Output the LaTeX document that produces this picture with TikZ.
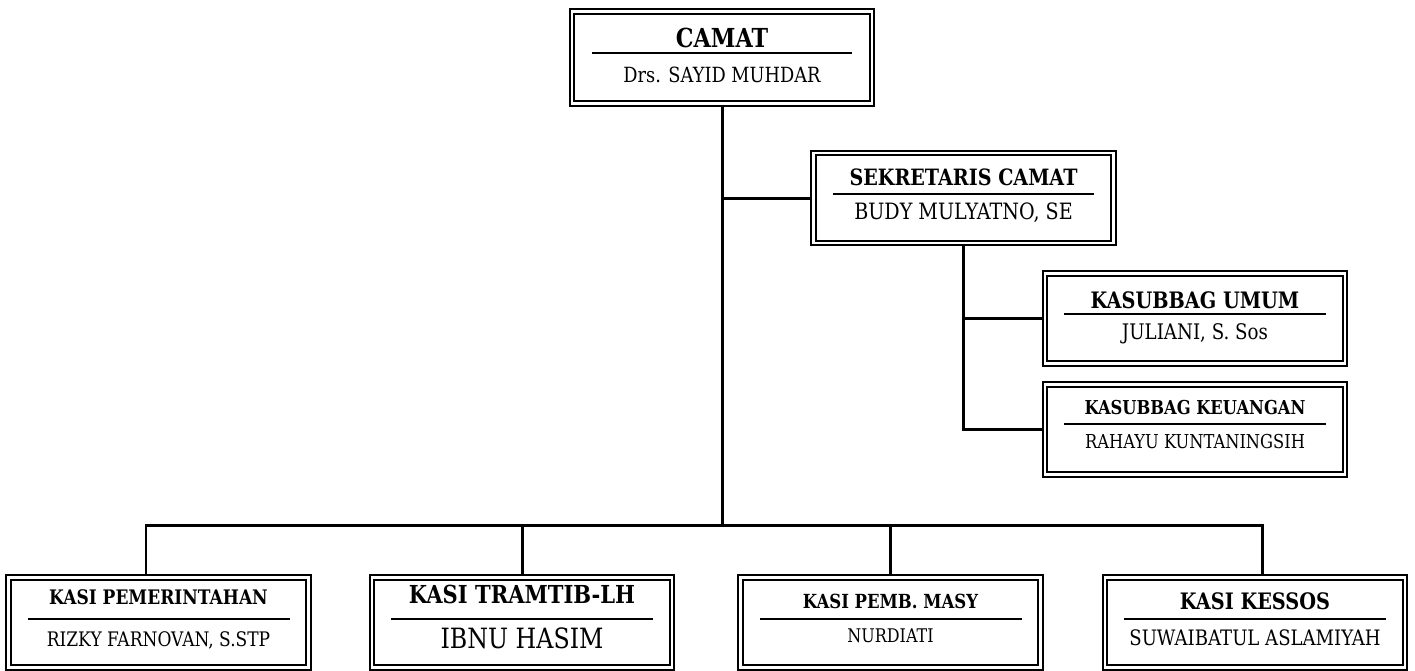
\documentclass[tikz,border=0pt]{standalone}
\usepackage{fontspec}
\setmainfont{DejaVu Serif}[FakeStretch=0.85]
\tikzset{
  unitbox/.style={draw, double, line width=1.3pt, double distance=1.2pt, inner sep=0pt,
    minimum width=6cm, minimum height=1.8cm},
  link/.style={line width=1.7pt},
  divider/.style={line width=0.9pt},
}
\begin{document}
\begin{tikzpicture}[x=0.02cm, y=-0.02cm]
\useasboundingbox (0,0) rectangle (1415,670);
% top levels
\node[unitbox, minimum height=1.84cm] (camat) at (722,57.5) {};
\node[font=\fontsize{14.9}{16}\selectfont\bfseries] (camat-t) at (722,38) {CAMAT};
\draw[divider] (592,53)--(852,53);
\node[font=\fontsize{11.9}{14}\selectfont] (camat-n) at (722,75) {Drs. SAYID MUHDAR};

\node[unitbox] (sekcam) at (963.5,198) {};
\node[font=\fontsize{12.8}{14}\selectfont\bfseries] (sekcam-t) at (963.5,177) {SEKRETARIS CAMAT};
\draw[divider] (833,194)--(1094,194);
\node[font=\fontsize{12.8}{14}\selectfont] (sekcam-n) at (963.5,213) {BUDY MULYATNO, SE};

\node[unitbox] (umum) at (1195,318.5) {};
\node[font=\fontsize{12.9}{14}\selectfont\bfseries] (umum-t) at (1195,300) {KASUBBAG UMUM};
\draw[divider] (1064,314)--(1326,314);
\node[font=\fontsize{12.2}{14}\selectfont] (umum-n) at (1195,334) {JULIANI, S. Sos};

\node[unitbox] (keu) at (1195,429.5) {};
\node[font=\fontsize{10.9}{12}\selectfont\bfseries] (keu-t) at (1195,408) {KASUBBAG KEUANGAN};
\draw[divider] (1064,424)--(1326,424);
\node[font=\fontsize{10.9}{12}\selectfont] (keu-n) at (1195,442) {RAHAYU KUNTANINGSIH};

% kasi row
\foreach \n/\cx/\ttl/\ty/\ts/\nm/\ny/\ns in {pem/158.5/KASI PEMERINTAHAN/597/11.4/{RIZKY FARNOVAN, S.STP}/640/11.4,
    tram/522/KASI TRAMTIB-LH/594/14.1/IBNU HASIM/638/15.9,
    pemb/890.5/KASI PEMB. MASY/601/11.05/NURDIATI/636/10.7,
    kessos/1255/KASI KESSOS/601/12.9/SUWAIBATUL ASLAMIYAH/638/12.1}
{
    \node[unitbox] (\n) at (\cx,622.5) {};
    \node[font=\fontsize{\ts}{14}\selectfont\bfseries] (\n-t) at (\cx,\ty) {\ttl};
    \draw[divider] (\cx-131,619)--(\cx+131,619);
    \node[font=\fontsize{\ns}{14}\selectfont] (\n-n) at (\cx,\ny) {\nm};
}

\coordinate (busL) at (146,525);
\coordinate (busR) at (1262,525);
\draw[link] (camat.south)--(camat.south |- busL);
\draw[link] (camat.south |- sekcam.west)--(sekcam.west);
\draw[link] (sekcam.south)--(sekcam.south |- keu.west)--(keu.west);
\draw[link] (sekcam.south |- umum.west)--(umum.west);
\draw[link] (busL |- pem.north)--(busL)--(busR)--(busR |- kessos.north);
\draw[link] (tram.north |- busL)--(tram.north);
\draw[link] (pemb.north |- busL)--(pemb.north);

\end{tikzpicture}
\end{document}
